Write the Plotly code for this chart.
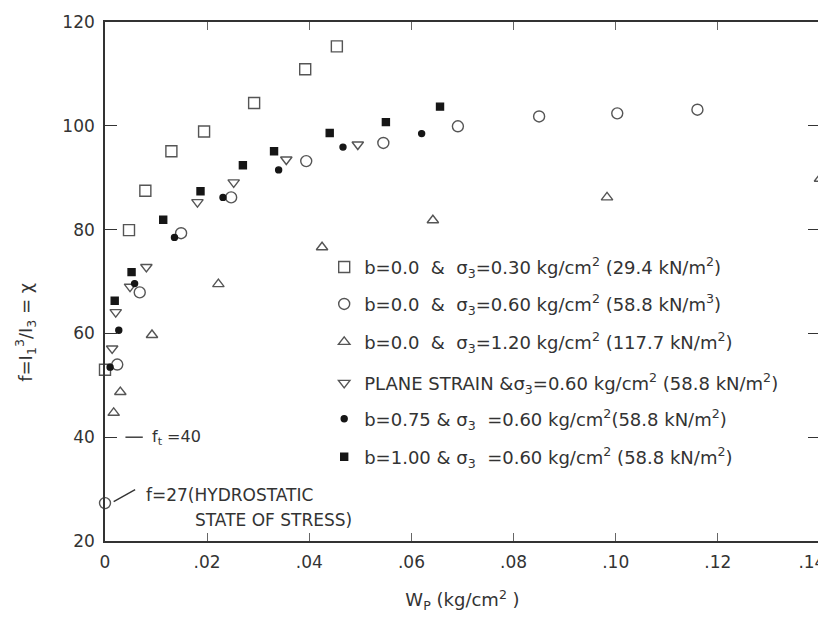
import plotly.graph_objects as go

# ---------------- data ----------------
sq_x = [0.0, 0.0047, 0.0079, 0.0130, 0.0194, 0.0292, 0.0392, 0.0454]
sq_y = [53.0, 79.9, 87.5, 95.1, 98.9, 104.4, 110.9, 115.3]

circ_x = [0.0, 0.0024, 0.0068, 0.0149, 0.0247, 0.0394, 0.0545, 0.0691, 0.0850, 0.1003, 0.1160]
circ_y = [27.3, 54.0, 67.9, 79.3, 86.2, 93.2, 96.7, 99.9, 101.8, 102.4, 103.1]

tri_x = [0.0017, 0.0030, 0.0092, 0.0222, 0.0425, 0.0642, 0.0983, 0.1400]
tri_y = [44.7, 48.7, 59.7, 69.5, 76.6, 81.8, 86.2, 89.8]

ps_x = [0.0014, 0.0021, 0.0049, 0.0081, 0.0181, 0.0252, 0.0355, 0.0495]
ps_y = [57.1, 64.1, 69.0, 72.8, 85.3, 89.1, 93.5, 96.4]

dot_x = [0.0010, 0.0027, 0.0058, 0.0136, 0.0231, 0.0340, 0.0466, 0.0620]
dot_y = [53.5, 60.6, 69.6, 78.5, 86.2, 91.5, 95.9, 98.5]

fsq_x = [0.0019, 0.0052, 0.0114, 0.0187, 0.0270, 0.0331, 0.0440, 0.0550, 0.0656]
fsq_y = [66.3, 71.8, 81.9, 87.4, 92.4, 95.1, 98.6, 100.7, 103.7]

series_names = [
    "b=0.0  &  σ<sub>3</sub>=0.30 kg/cm<sup>2</sup> (29.4 kN/m<sup>2</sup>)",
    "b=0.0  &  σ<sub>3</sub>=0.60 kg/cm<sup>2</sup> (58.8 kN/m<sup>3</sup>)",
    "b=0.0  &  σ<sub>3</sub>=1.20 kg/cm<sup>2</sup> (117.7 kN/m<sup>2</sup>)",
    "PLANE STRAIN &σ<sub>3</sub>=0.60 kg/cm<sup>2</sup> (58.8 kN/m<sup>2</sup>)",
    "b=0.75 & σ<sub>3</sub>  =0.60 kg/cm<sup>2</sup>(58.8 kN/m<sup>2</sup>)",
    "b=1.00 & σ<sub>3</sub>  =0.60 kg/cm<sup>2</sup> (58.8 kN/m<sup>2</sup>)",
]

x_tickvals = [0, 0.02, 0.04, 0.06, 0.08, 0.10, 0.12, 0.14]
x_ticktext = ["0", ".02", ".04", ".06", ".08", ".10", ".12", ".14\u00a0\u00a0\u00a0"]
y_tickvals = [20, 40, 60, 80, 100, 120]

FONT = "DejaVu Sans, Liberation Sans, Arial, sans-serif"
INK = "#333333"
OPEN = "#555555"
FILL = "#161616"

fig = go.Figure()

specs = [
    (sq_x, sq_y, "square-open", 11, OPEN),
    (circ_x, circ_y, "circle-open", 11, OPEN),
    (tri_x, tri_y, "triangle-up-open", 10, OPEN),
    (ps_x, ps_y, "triangle-down-open", 10, OPEN),
    (dot_x, dot_y, "circle", 6, FILL),
    (fsq_x, fsq_y, "square", 7, FILL),
]
legend_ids = ["legend", "legend2", "legend3", "legend4", "legend5", "legend6"]

for (xs, ys, sym, sz, col), name, lid in zip(specs, series_names, legend_ids):
    fig.add_trace(go.Scatter(
        x=xs, y=ys, mode="markers", name=name, legend=lid,
        cliponaxis=False,
        marker=dict(symbol=sym, size=sz, color=col,
                    line=dict(color=col, width=1.4)),
    ))

# The page body adds an 8px offset; the figure is sized so the page does not scroll.
OFF = 8
W, H = 818, 605
L, T = 96.5, 13.5
pw, ph = 716.0, 519.5
R = W - L - pw
B = H - T - ph

def px_x(p):  # screen pixel -> paper x
    return (p - OFF - L) / pw

def px_y(p):  # screen pixel -> paper y
    return (T + ph - (p - OFF)) / ph

row_centers = [267, 304, 342, 383, 419, 457]
legend_layouts = {}
for lid, rc in zip(legend_ids, row_centers):
    legend_layouts[lid] = dict(
        x=px_x(324), y=px_y(rc), xanchor="left", yanchor="middle",
        bgcolor="rgba(0,0,0,0)", borderwidth=0,
        font=dict(family=FONT, size=18, color=INK),
        itemclick=False, itemdoubleclick=False,
    )

fig.update_layout(
    width=W, height=H,
    margin=dict(l=L, r=R, t=T, b=B, pad=0, autoexpand=False),
    paper_bgcolor="white", plot_bgcolor="white",
    font=dict(family=FONT, size=17, color=INK),
    showlegend=True,
    **legend_layouts,
    xaxis=dict(
        range=[0, 0.14], tickvals=x_tickvals, ticktext=x_ticktext,
        ticks="inside", ticklen=8, tickwidth=1, tickcolor="#666",
        showline=True, linecolor=INK, linewidth=1.6, mirror="ticks",
        showgrid=False, zeroline=False, automargin=False,
        ticklabeloverflow="allow",
        tickfont=dict(family=FONT, size=17, color=INK),
        ticklabelstandoff=5,
        title=dict(text="W<sub>P</sub> (kg/cm<sup>2</sup> )",
                   font=dict(family=FONT, size=18, color=INK), standoff=26),
    ),
    yaxis=dict(
        range=[20, 120], tickvals=y_tickvals,
        ticks="inside", ticklen=12, tickwidth=1.2, tickcolor=INK,
        showline=True, linecolor=INK, linewidth=1.6, mirror="ticks",
        showgrid=False, zeroline=False, automargin=False,
        tickfont=dict(family=FONT, size=17, color=INK),
        ticklabelstandoff=5,
    ),
)

# y-axis title
fig.add_annotation(
    xref="paper", yref="paper", x=px_x(25), y=px_y(332),
    xanchor="center", yanchor="middle",
    text="f=I<sub>1</sub><sup>3</sup>/I<sub>3</sub> = χ", textangle=-90,
    showarrow=False, font=dict(family=FONT, size=18, color=INK),
)

# f_t = 40 label and leader
fig.add_shape(type="line", xref="x", yref="y", x0=0.0040, x1=0.0074, y0=40, y1=40,
              line=dict(color=INK, width=1.4))
fig.add_annotation(
    xref="x", yref="y", x=0.0088, y=40, xanchor="left", yanchor="middle",
    text="f<sub>t</sub> =40", showarrow=False,
    font=dict(family=FONT, size=16, color=INK),
)

# hydrostatic label and leader
fig.add_shape(type="line", xref="x", yref="y", x0=0.0017, x1=0.0059, y0=27.6, y1=29.9,
              line=dict(color=INK, width=1.4))
fig.add_annotation(
    xref="x", yref="y", x=0.0076, y=28.9, xanchor="left", yanchor="middle",
    text="f=27(HYDROSTATIC", showarrow=False,
    font=dict(family=FONT, size=17, color=INK),
)
fig.add_annotation(
    xref="x", yref="y", x=0.0172, y=24.0, xanchor="left", yanchor="middle",
    text="STATE OF STRESS)", showarrow=False,
    font=dict(family=FONT, size=17, color=INK),
)

fig.write_html("out.html")
